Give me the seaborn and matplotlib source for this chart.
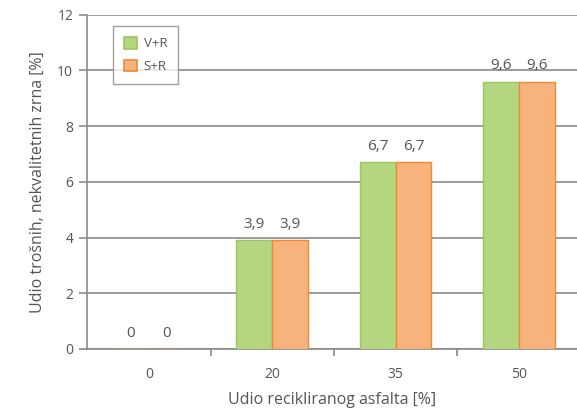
import pandas as pd
import matplotlib.pyplot as plt
import seaborn as sns

# Data
categories = ["0", "20", "35", "50"]
vr_values = [0, 3.9, 6.7, 9.6]
sr_values = [0, 3.9, 6.7, 9.6]
series_names = ["V+R", "S+R"]

df = pd.DataFrame({
    "Udio": categories * 2,
    "Vrijednost": vr_values + sr_values,
    "Serija": [series_names[0]] * 4 + [series_names[1]] * 4,
})

sns.set_style("white")
plt.rcParams['font.family'] = ['Open Sans', 'DejaVu Sans']
text_col = "#555555"
grid_col = "#8a8a8a"

fig = plt.figure(figsize=(5.77, 4.11), dpi=100)
ax = fig.add_axes([0.151, 0.151, 0.849, 0.813])

ax.yaxis.grid(True, color=grid_col, linewidth=1.2, zorder=0)
ax.set_axisbelow(True)

sns.barplot(data=df, x="Udio", y="Vrijednost", hue="Serija", order=categories,
            palette=["#b3d67f", "#f8b27b"], saturation=1, width=0.58, ax=ax, zorder=3)

edges = ["#9cc563", "#ec8a3a"]
for cont, ec in zip(ax.containers, edges):
    for bar in cont:
        bar.set_edgecolor(ec)
        bar.set_linewidth(1.0)
    ax.bar_label(cont, labels=[f"{v:.1f}".replace(".", ",") if v else "0" for v in cont.datavalues],
                 padding=6, fontsize=11, color=text_col)

ax.set_ylim(0, 12)
ax.set_yticks(range(0, 13, 2))
ax.set_xlim(-0.5, 3.47)

# ticks on category boundaries
ax.set_xticks([0.5, 1.5, 2.5], minor=True)
ax.tick_params(axis="x", which="minor", length=5, width=1.2, color=grid_col, direction="out")
ax.tick_params(axis="x", which="major", length=0, pad=13, labelsize=10, labelcolor=text_col)
ax.tick_params(axis="y", length=6, width=1.2, color=grid_col, direction="out", labelsize=10,
               labelcolor=text_col, pad=4)
ax.tick_params(bottom=True, left=True, which="both")

for side in ["top", "right"]:
    ax.spines[side].set_visible(False)
for side in ["left", "bottom"]:
    ax.spines[side].set_color(grid_col)
    ax.spines[side].set_linewidth(1.2)

ax.set_xlabel("Udio recikliranog asfalta [%]", fontsize=11.5, color=text_col, labelpad=7)
ax.set_ylabel("Udio trošnih, nekvalitetnih zrna [%]", fontsize=11.5, color=text_col, labelpad=8)

leg = ax.legend(loc="upper left", bbox_to_anchor=(0.04, 0.985), frameon=True, fontsize=9.5,
                handlelength=1.0, handleheight=1.0, handletextpad=0.5, borderpad=0.8,
                labelspacing=0.7, fancybox=False, title=None)
leg.get_frame().set_edgecolor(grid_col)
leg.get_frame().set_linewidth(1.0)
for h, ec in zip(leg.legend_handles, edges):
    h.set_edgecolor(ec)
    h.set_linewidth(1.2)
for t in leg.get_texts():
    t.set_color(text_col)

plt.savefig("out.png", dpi=100)
